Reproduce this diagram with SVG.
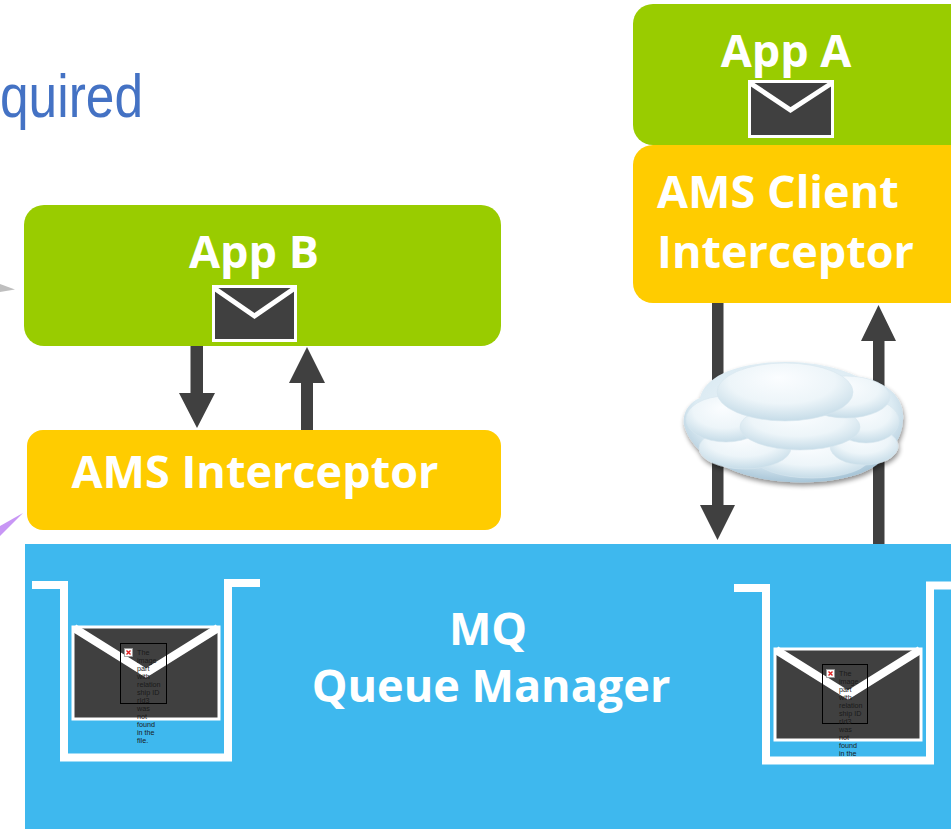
<svg xmlns="http://www.w3.org/2000/svg" width="951" height="829" viewBox="0 0 951 829">
  <style>
    .label { font-family: "Open Sans", "Noto Sans", sans-serif; font-weight: 700; fill: #ffffff; font-size: 45px; }
    .green { fill: #99cc00; }
    .yellow { fill: #ffcc00; }
    .arrow { fill: #404040; }
    .env-body { fill: #404040; stroke: #ffffff; stroke-width: 3; }
    .env-flap { fill: none; stroke: #ffffff; stroke-linejoin: miter; }
    .queue { fill: none; stroke: #ffffff; stroke-width: 8; stroke-linejoin: miter; }
    .ph-box { fill: none; stroke: #000000; stroke-width: 1; }
    .ph-text { font-family: "Liberation Sans", Arial, sans-serif; font-size: 7.2px; fill: #1a1a1a; }
    .lobe { stroke: #d6e6ef; stroke-width: 0.6; }
  </style>
  <defs>
    <radialGradient id="lobeFill" cx="0.5" cy="0.35" r="0.65" fx="0.45" fy="0.25">
      <stop offset="0" stop-color="#fbfdff"/>
      <stop offset="0.6" stop-color="#edf5f9"/>
      <stop offset="1" stop-color="#c6dce8"/>
    </radialGradient>
    <radialGradient id="cloudBase" cx="0.5" cy="0.4" r="0.6">
      <stop offset="0" stop-color="#f3f8fb"/>
      <stop offset="0.75" stop-color="#dcebf3"/>
      <stop offset="1" stop-color="#a9c6d8"/>
    </radialGradient>
    <filter id="cloudShadow" x="-10%" y="-15%" width="125%" height="140%">
      <feGaussianBlur in="SourceAlpha" stdDeviation="2.5"/>
      <feOffset dx="1" dy="3" result="b"/>
      <feComponentTransfer><feFuncA type="linear" slope="0.45"/></feComponentTransfer>
      <feMerge><feMergeNode/><feMergeNode in="SourceGraphic"/></feMerge>
    </filter>
    <clipPath id="phClipRight"><rect x="820" y="660" width="60" height="96"/></clipPath>
  </defs>

  <!-- title fragment at the top left -->
  <text x="0" y="117" font-family="'Liberation Sans', Arial, sans-serif" font-size="62" fill="#4472c4" textLength="143" lengthAdjust="spacingAndGlyphs">quired</text>

  <!-- stray connector tips entering from the left edge -->
  <polygon points="0,284 15,289.5 0,292" fill="#bfbfbf"/>
  <polygon points="0,526 23,513 0,536" fill="#c896f5"/>

  <!-- MQ queue manager -->
  <g id="queue-manager">
    <rect x="25" y="544" width="926" height="285" fill="#3eb8ee"/>
    <text class="label" x="488" y="645" text-anchor="middle">MQ</text>
    <text class="label" x="491" y="702" text-anchor="middle">Queue Manager</text>
  </g>

  <!-- left queue with message -->
  <g id="queue-left">
    <path class="queue" d="M32,585 H64 V757.5 H228 V583 H260"/>
    <rect class="env-body" x="73" y="627" width="146" height="92"/>
    <polyline class="env-flap" stroke-width="8" points="74,628 146,673 218,628"/>
    <g id="placeholder-left">
      <rect class="ph-box" x="120.5" y="643.5" width="46" height="60"/>
      <rect x="124.5" y="648.5" width="8" height="8" fill="#ffffff" stroke="#999999" stroke-width="0.8"/>
      <path d="M126.5,650.5 L130.5,654.5 M130.5,650.5 L126.5,654.5" stroke="#e02020" stroke-width="1.4"/>
      <text class="ph-text">
        <tspan x="137" y="655">The</tspan>
        <tspan x="137" y="663">image</tspan>
        <tspan x="137" y="671">part</tspan>
        <tspan x="137" y="679">with</tspan>
        <tspan x="137" y="687">relation</tspan>
        <tspan x="137" y="695">ship ID</tspan>
        <tspan x="137" y="703">rId3</tspan>
        <tspan x="137" y="711">was</tspan>
        <tspan x="137" y="719">not</tspan>
        <tspan x="137" y="727">found</tspan>
        <tspan x="137" y="735">in the</tspan>
        <tspan x="137" y="743">file.</tspan>
      </text>
    </g>
  </g>

  <!-- right queue with message -->
  <g id="queue-right">
    <path class="queue" d="M734,588 H766 V760.5 H930 V585.5 H951"/>
    <rect class="env-body" x="775" y="649" width="146" height="91"/>
    <polyline class="env-flap" stroke-width="8" points="776,650 848,695 920,650"/>
    <g id="placeholder-right">
      <rect class="ph-box" x="822.5" y="664.5" width="45" height="59"/>
      <rect x="826.5" y="669.5" width="8" height="8" fill="#ffffff" stroke="#999999" stroke-width="0.8"/>
      <path d="M828.5,671.5 L832.5,675.5 M832.5,671.5 L828.5,675.5" stroke="#e02020" stroke-width="1.4"/>
      <text class="ph-text" clip-path="url(#phClipRight)">
        <tspan x="839" y="676">The</tspan>
        <tspan x="839" y="684">image</tspan>
        <tspan x="839" y="692">part</tspan>
        <tspan x="839" y="700">with</tspan>
        <tspan x="839" y="708">relation</tspan>
        <tspan x="839" y="716">ship ID</tspan>
        <tspan x="839" y="724">rId3</tspan>
        <tspan x="839" y="732">was</tspan>
        <tspan x="839" y="740">not</tspan>
        <tspan x="839" y="748">found</tspan>
        <tspan x="839" y="756">in the</tspan>
        <tspan x="839" y="764">file.</tspan>
      </text>
    </g>
  </g>

  <!-- App B -->
  <g id="app-b">
    <rect class="green" x="24" y="205" width="477" height="141" rx="20"/>
    <text class="label" x="254" y="268" text-anchor="middle">App B</text>
    <rect class="env-body" x="213.5" y="286.5" width="82" height="54"/>
    <polyline class="env-flap" stroke-width="5" points="214,288 254.5,316 295,288"/>
  </g>

  <!-- AMS Interceptor -->
  <g id="ams-interceptor">
    <rect class="yellow" x="27" y="430" width="474" height="100" rx="16"/>
    <text class="label" x="255" y="488" text-anchor="middle">AMS Interceptor</text>
  </g>

  <!-- App A -->
  <g id="app-a">
    <rect class="green" x="633" y="4" width="340" height="141" rx="20"/>
    <text class="label" x="786" y="67" text-anchor="middle">App A</text>
    <rect class="env-body" x="749.5" y="81.5" width="83" height="55"/>
    <polyline class="env-flap" stroke-width="5" points="750,83 790.5,110 832,83"/>
  </g>

  <!-- AMS Client Interceptor -->
  <g id="ams-client-interceptor">
    <rect class="yellow" x="633" y="145" width="340" height="158" rx="20"/>
    <text class="label" x="657" y="208">AMS Client</text>
    <text class="label" x="657" y="268">Interceptor</text>
  </g>

  <!-- connectors -->
  <g id="connectors">
    <!-- App B to AMS Interceptor -->
    <polygon class="arrow" points="190.5,346 203,346 203,393 215,393 197,428 179,393 190.5,393"/>
    <!-- AMS Interceptor to App B -->
    <polygon class="arrow" points="301,430 313,430 313,383 325,383 307,347 289,383 301,383"/>
    <!-- AMS Client Interceptor down to queue manager -->
    <polygon class="arrow" points="712,303 723.5,303 723.5,505 735,505 717.5,540 700,505 712,505"/>
    <!-- queue manager up to AMS Client Interceptor -->
    <polygon class="arrow" points="873,544 884.5,544 884.5,341 896,341 878.5,305 861,341 873,341"/>
  </g>

  <!-- network cloud -->
  <g id="cloud" filter="url(#cloudShadow)">
    <path d="M700,398 C705,375 740,362 785,362 C820,362 845,370 860,378 C890,382 905,400 903,420 C902,438 893,448 885,455 C878,470 850,480 815,482 C780,484 745,478 722,465 C700,455 688,440 684,425 C682,412 690,402 700,398 Z" fill="url(#cloudBase)"/>
    <ellipse class="lobe" cx="812" cy="457" rx="58" ry="21" fill="url(#lobeFill)"/>
    <ellipse class="lobe" cx="745" cy="448" rx="46" ry="21" fill="url(#lobeFill)"/>
    <ellipse class="lobe" cx="864" cy="446" rx="34" ry="19" fill="url(#lobeFill)"/>
    <ellipse class="lobe" cx="866" cy="421" rx="33" ry="22" fill="url(#lobeFill)"/>
    <ellipse class="lobe" cx="726" cy="419" rx="40" ry="23" fill="url(#lobeFill)"/>
    <ellipse class="lobe" cx="800" cy="427" rx="60" ry="23" fill="url(#lobeFill)"/>
    <ellipse class="lobe" cx="846" cy="397" rx="44" ry="21" fill="url(#lobeFill)"/>
    <ellipse class="lobe" cx="785" cy="392" rx="68" ry="29" fill="url(#lobeFill)"/>
  </g>
</svg>
